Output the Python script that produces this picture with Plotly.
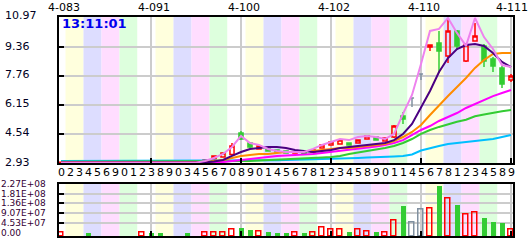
import plotly.graph_objects as go

# ---------------- data ----------------
digit_labels = "0 2 3 4 5 6 9 0 1 2 3 8 9 0 3 4 5 6 7 0 8 9 0 1 4 5 6 7 8 1 2 3 4 5 8 9 0 1 1 4 5 6 7 8 1 2 3 4 5 8 9".split()
period_pos = [0, 10, 20, 30, 40, 50]
period_labels = ["4-083", "4-091", "4-100", "4-102", "4-110", "4-111"]
price_ticks = [10.97, 9.36, 7.76, 6.15, 4.54, 2.93]
price_tick_text = ["10.97", "9.36", "7.76", "6.15", "4.54", "2.93"]
vol_ticks = [2.27e8, 1.81e8, 1.36e8, 9.07e7, 4.53e7, 0]
vol_tick_text = ["2.27E+08", "1.81E+08", "1.36E+08", "9.07E+07", "4.53E+07", "0.00"]
time_text = "13:11:01"

opens = [2.95, 2.96, 2.96, 2.97, 2.95, 2.96, 2.96, 2.96, 2.96, 2.96, 2.99, 2.97, 2.96, 2.96, 2.97, 2.96,
         3.04, 3.15, 3.26, 3.40, 4.59, 4.04, 3.71, 3.76, 3.65, 3.60, 3.48, 3.54, 3.54, 3.76, 3.93, 3.98,
         4.04, 4.04, 4.26, 4.37, 4.15, 4.37, 5.54, 6.53, 7.86, 9.36, 9.58, 8.86, 10.25, 8.58, 9.69, 9.42,
         8.69, 8.20, 7.53]
highs = [2.98, 2.98, 2.98, 2.98, 2.97, 2.98, 2.98, 2.98, 2.98, 3.05, 3.00, 2.98, 2.98, 2.98, 2.98, 2.99,
         3.12, 3.35, 3.52, 4.04, 4.70, 4.09, 3.93, 3.80, 3.68, 3.62, 3.57, 3.56, 3.68, 3.96, 4.12, 4.23,
         4.07, 4.23, 4.46, 4.40, 4.35, 5.04, 5.76, 6.53, 7.86, 9.47, 10.25, 10.97, 10.30, 9.58, 10.69, 9.53,
         8.81, 8.31, 7.86]
lows = [2.93, 2.95, 2.95, 2.94, 2.94, 2.95, 2.95, 2.95, 2.95, 2.95, 2.96, 2.95, 2.95, 2.95, 2.95, 2.95,
        3.02, 3.13, 3.24, 3.37, 4.20, 3.76, 3.68, 3.56, 3.50, 3.45, 3.45, 3.40, 3.50, 3.73, 3.90, 3.96,
        3.90, 4.01, 4.23, 4.17, 4.12, 4.32, 5.09, 6.03, 7.53, 9.14, 7.92, 8.47, 9.19, 8.53, 9.69, 8.25,
        7.97, 7.09, 7.42]
closes = [2.97, 2.97, 2.97, 2.95, 2.96, 2.97, 2.97, 2.97, 2.97, 2.99, 2.97, 2.96, 2.97, 2.97, 2.96, 2.98,
          3.10, 3.32, 3.48, 3.87, 4.26, 3.82, 3.87, 3.60, 3.54, 3.48, 3.54, 3.43, 3.65, 3.93, 4.09, 4.20,
          3.93, 4.20, 4.43, 4.20, 4.32, 4.98, 5.37, 6.53, 7.86, 9.47, 9.14, 10.25, 9.42, 9.47, 9.97, 8.58,
          8.31, 7.31, 7.75]
volumes = [1.5e6, 0, 0, 1e6, 0, 0, 0, 0, 0, 1e6, 1e6, 1e6, 0, 0, 1e6, 0,
           1e6, 1.5e6, 1.5e6, 1.8e7, 2.3e7, 1.8e7, 9e6, 5e6, 2e6, 1.5e6, 1.5e6, 1.5e6, 3e6, 2.3e7, 1.8e7, 1.8e7,
           5e6, 1.8e7, 9e6, 9e6, 2e6, 5.9e7, 1.27e8, 5.0e7, 1.09e8, 1.13e8, 2.18e8, 1.59e8, 1.32e8, 8.6e7, 9.5e7, 7.3e7,
           5.4e7, 5.0e7, 1.8e7]

ma_plum = [2.95] * 16 + [3.04, 3.21, 3.43, 3.82, 4.43, 4.04, 3.93, 3.71, 3.60, 3.54, 3.54, 3.54, 3.71, 3.93, 4.09,
                         4.26, 4.20, 4.37, 4.43, 4.37, 4.26, 4.54, 5.65, 6.70, 8.42, 10.25, 10.36, 10.97, 10.14,
                         9.42, 10.97, 9.91, 9.25, 8.36, 8.25]
ma_indigo = [2.96] * 16 + [2.96, 3.01, 3.10, 3.32, 3.54, 3.71, 3.76, 3.82, 3.82, 3.76, 3.65, 3.60, 3.54, 3.60, 3.65,
                           3.76, 3.82, 3.87, 3.93, 3.98, 4.04, 4.20, 4.54, 5.09, 5.98, 6.92, 7.97, 8.75, 9.25,
                           9.47, 9.53, 9.42, 9.03, 8.53, 8.25]
ma_orange = [2.97] * 17 + [3.04, 3.10, 3.21, 3.32, 3.37, 3.43, 3.43, 3.48, 3.54, 3.54, 3.60, 3.60, 3.65, 3.71,
                           3.76, 3.76, 3.82, 3.87, 3.93, 3.98, 4.15, 4.37, 4.65, 5.04, 5.59, 6.14, 6.64, 7.14,
                           7.64, 8.20, 8.64, 8.97, 9.03, 9.03]
ma_magenta = [2.98] * 19 + [3.04, 3.10, 3.15, 3.21, 3.26, 3.32, 3.35, 3.37, 3.40, 3.43, 3.48, 3.54, 3.60, 3.65,
                            3.71, 3.76, 3.84, 3.93, 4.04, 4.20, 4.48, 4.76, 4.98, 5.26, 5.48, 5.70, 5.98, 6.20,
                            6.42, 6.64, 6.81, 6.98]
ma_green = [3.00] * 16 + [3.02] * 5 + [3.04, 3.07, 3.10, 3.12, 3.15, 3.15, 3.18, 3.21, 3.24, 3.26, 3.32, 3.43,
                                       3.50, 3.60, 3.68, 3.76, 3.87, 4.04, 4.26, 4.54, 4.76, 4.93, 5.09, 5.22,
                                       5.33, 5.52, 5.62, 5.72, 5.80, 5.87]
ma_blue = [3.04] * 21 + [3.05, 3.06, 3.07, 3.08, 3.09, 3.10, 3.12, 3.13, 3.15, 3.16, 3.18, 3.20, 3.21, 3.23,
                         3.24, 3.26, 3.29, 3.32, 3.40, 3.62, 3.76, 3.87, 3.98, 4.04, 4.09, 4.15, 4.20, 4.26,
                         4.37, 4.48]

# ---------------- styling / layout ----------------
W, H = 529, 240
FONT = "DejaVu Sans"
RED, GREEN, GRAY = "#ff0000", "#33cc33", "#8090a0"
N = len(closes)
X = list(range(N))


def py(ypix):
    return 1 - ypix / H


XDOM = [58.5 / W, 513 / W]
XRANGE = [-2.5 / 9, 452 / 9]
MAIN_DOM = [py(163), py(16.5)]
MAIN_RANGE = [2.93, 2.93 + 146.5 / 18.04]
VOL_DOM = [py(236), py(183.5)]
VFLOOR = -1.38e7
VOL_RANGE = [VFLOOR, 2.27e8]


def to_paper(v, rng, dom):
    """map a data value on a linear axis to paper coordinates (same as the axis scale)"""
    return dom[0] + (v - rng[0]) / (rng[1] - rng[0]) * (dom[1] - dom[0])


fig = go.Figure()

up = [i for i in X if closes[i] > opens[i]]
dn = [i for i in X if closes[i] < opens[i]]
fl = [i for i in X if closes[i] == opens[i]]

for idx, col, fill in ((up, RED, "rgba(0,0,0,0)"), (dn, GREEN, GREEN), (fl, GRAY, "rgba(0,0,0,0)")):
    if not idx:
        continue
    style = dict(line=dict(color=col, width=1.5), fillcolor=fill)
    fig.add_trace(go.Candlestick(
        x=idx, open=[opens[i] for i in idx], high=[highs[i] for i in idx],
        low=[lows[i] for i in idx], close=[closes[i] for i in idx],
        increasing=style, decreasing=style, xaxis="x", yaxis="y",
        showlegend=False, hoverinfo="skip"))

for vals, col in ((ma_blue, "#00bfff"), (ma_green, "#33cc33"), (ma_magenta, "#ff00ff"),
                  (ma_orange, "#ff8c00"), (ma_indigo, "#4b0082"), (ma_plum, "#ee82ee")):
    fig.add_trace(go.Scatter(x=X, y=vals, mode="lines", line=dict(color=col, width=2),
                             xaxis="x", yaxis="y", showlegend=False, hoverinfo="skip"))

for idx, col, fill in ((up, RED, "rgba(0,0,0,0)"), (dn, GREEN, GREEN), (fl, GRAY, "rgba(0,0,0,0)")):
    sel = [i for i in idx if volumes[i] > 0]
    if not sel:
        continue
    fig.add_trace(go.Bar(
        x=sel, y=[volumes[i] - VFLOOR for i in sel], base=VFLOOR, width=0.62,
        marker=dict(color=fill, line=dict(color=col, width=1.5 if fill != GREEN else 0)),
        xaxis="x2", yaxis="y2", showlegend=False, hoverinfo="skip"))

# background stripes
stripe_cols = ["#ffffdd", "#ddddff", "#ffddff", "#ddffdd", "#ffffff"]
shapes = []
k = 0
while 0.5 + 2 * k < XRANGE[1]:
    col = stripe_cols[k % 5]
    for xr, yr in (("x", "y domain"), ("x2", "y2 domain")):
        shapes.append(dict(type="rect", xref=xr, yref=yr, x0=0.5 + 2 * k, x1=2.5 + 2 * k, y0=0, y1=1,
                           fillcolor=col, line=dict(width=0), layer="below"))
    k += 1

axis_common = dict(showline=True, linecolor="black", linewidth=2, mirror=True, zeroline=False,
                   ticks="inside", ticklen=5, tickwidth=2, tickcolor="black",
                   showgrid=True, gridcolor="#cccccc", gridwidth=2, showticklabels=False, fixedrange=True)

annotations = []
for v, t in zip(price_ticks, price_tick_text):
    annotations.append(dict(x=3 / W, xref="paper", xanchor="left", y=to_paper(v, MAIN_RANGE, MAIN_DOM),
                            yref="paper", yanchor="middle", yshift=2.5 if v == max(price_ticks) else 1,
                            text=t, showarrow=False, font=dict(family=FONT, size=11, color="#000022")))
for v, t in zip(vol_ticks, vol_tick_text):
    annotations.append(dict(x=0, xref="paper", xanchor="left", y=to_paper(v, VOL_RANGE, VOL_DOM),
                            yref="paper", yanchor="middle", text=t, showarrow=False, borderpad=0,
                            font=dict(family=FONT, size=9, color="#330033")))
for p, t in zip(period_pos, period_labels):
    annotations.append(dict(x=p + (0.33 if p < 50 else 0.1), xref="x", xanchor="center", y=py(7), yref="paper",
                            yanchor="middle", text=t, showarrow=False,
                            font=dict(family=FONT, size=11, color="#000000")))
for i, t in enumerate(digit_labels):
    annotations.append(dict(x=i, xref="x", xanchor="center", y=py(172.5), yref="paper", yanchor="middle",
                            text=t, showarrow=False, font=dict(family=FONT, size=11, color="#000000")))
annotations.append(dict(x=60 / W, xref="paper", xanchor="left", y=py(23), yref="paper", yanchor="middle",
                        text="<b>" + time_text + "</b>", showarrow=False,
                        font=dict(family=FONT, size=13, color="#0000ee")))

fig.update_layout(
    width=W, height=H, margin=dict(l=0, r=0, t=0, b=0),
    paper_bgcolor="white", plot_bgcolor="white",
    showlegend=False, boxgap=0.35, bargap=0,
    xaxis=dict(domain=XDOM, range=XRANGE, anchor="y", tickvals=period_pos[1:],
               rangeslider=dict(visible=False), **axis_common),
    yaxis=dict(domain=MAIN_DOM, range=MAIN_RANGE, anchor="x", tickvals=price_ticks[1:-1], **axis_common),
    xaxis2=dict(domain=XDOM, range=XRANGE, anchor="y2", tickvals=period_pos[1:], **axis_common),
    yaxis2=dict(domain=VOL_DOM, range=VOL_RANGE, anchor="x2", tickvals=vol_ticks[1:-1], **axis_common),
    shapes=shapes, annotations=annotations,
)

fig.write_html("out.html")
